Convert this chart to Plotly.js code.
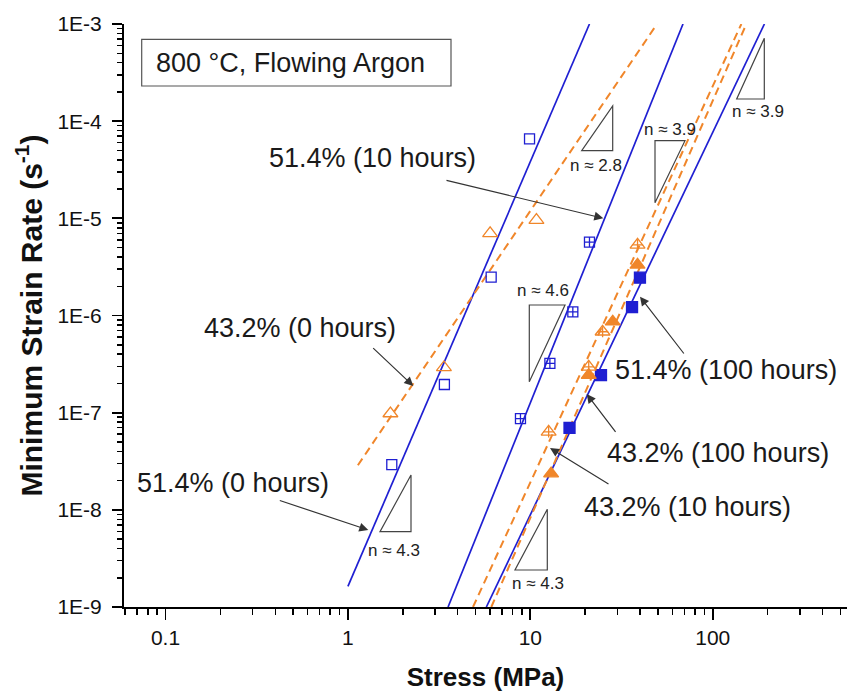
<!DOCTYPE html>
<html><head><meta charset="utf-8">
<script src="https://cdn.plot.ly/plotly-3.0.1.min.js"></script>
<style>html,body{margin:0;padding:0;overflow:hidden;background:#fff}</style>
</head><body><div id="chart" style="width:847px;height:694px"></div>
<script>
// ---------- data ----------
const stress_514_0h = [1.74, 3.38, 6.1, 9.9];
const rate_514_0h   = [2.92e-8, 1.95e-7, 2.48e-6, 6.56e-5];
const stress_432_0h = [1.71, 3.36, 6.02, 10.8];
const rate_432_0h   = [9.8e-8, 2.92e-7, 7.0e-6, 9.6e-6];
const stress_514_10h = [8.83, 12.8, 17.1, 21.1];
const rate_514_10h   = [8.7e-8, 3.21e-7, 1.09e-6, 5.69e-6];
const stress_514_100h = [16.4, 24.4, 36.1, 39.9];
const rate_514_100h   = [6.97e-8, 2.44e-7, 1.22e-6, 2.45e-6];
const stress_432_10h = [12.6, 20.9, 24.9, 38.7];
const rate_432_10h   = [6.34e-8, 2.96e-7, 6.8e-7, 5.33e-6];
const stress_432_100h = [13.0, 20.9, 28.3, 38.7];
const rate_432_100h   = [2.36e-8, 2.44e-7, 8.63e-7, 3.32e-6];

// fitted power-law lines (end points)
const fit_514_0h_x = [1.0, 21.1];    const fit_514_0h_y = [1.63e-9, 1e-3];
const fit_432_0h_x = [1.134, 49.5];  const fit_432_0h_y = [2.88e-8, 1e-3];
const fit_514_10h_x = [3.54, 68.7];  const fit_514_10h_y = [1e-9, 1e-3];
const fit_514_100h_x = [5.74, 192];  const fit_514_100h_y = [1e-9, 1e-3];
const fit_432_10h_x = [4.85, 143.5]; const fit_432_10h_y = [1e-9, 1e-3];
const fit_432_100h_x = [6.11, 152.8];const fit_432_100h_y = [1e-9, 1e-3];

const xTickVals = [0.1, 1, 10, 100];
const xTickText = ["0.1", "1", "10", "100"];
const yTickVals = [1e-9, 1e-8, 1e-7, 1e-6, 1e-5, 1e-4, 1e-3];
const yTickText = ["1E-9", "1E-8", "1E-7", "1E-6", "1E-5", "1E-4", "1E-3"];

// ---------- styling ----------
const BLUE = '#1f1fd2';
const ORANGE = '#f0862a';
const FONT = 'Liberation Sans, Arial, sans-serif';
const L = 124, R = 847, T = 24, B = 607;
const px = x => (x - L) / (R - L);
const py = y => (B - y) / (B - T);

function fitLine(x, y, color, dash) {
  return {x: x, y: y, type: 'scatter', mode: 'lines', hoverinfo: 'skip',
          line: {color: color, width: dash ? 2 : 1.7, dash: dash ? '8px,5px' : 'solid'}};
}
function pts(x, y, symbol, color, size) {
  return {x: x, y: y, type: 'scatter', mode: 'markers',
          marker: {symbol: symbol, size: size, color: color, line: {color: color, width: 1.3}}};
}

const traces = [
  fitLine(fit_514_0h_x, fit_514_0h_y, BLUE, false),
  fitLine(fit_432_0h_x, fit_432_0h_y, ORANGE, true),
  fitLine(fit_514_10h_x, fit_514_10h_y, BLUE, false),
  fitLine(fit_514_100h_x, fit_514_100h_y, BLUE, false),
  fitLine(fit_432_10h_x, fit_432_10h_y, ORANGE, true),
  fitLine(fit_432_100h_x, fit_432_100h_y, ORANGE, true),
  pts(stress_514_0h, rate_514_0h, 'square-open', BLUE, 10),
  pts(stress_432_0h, rate_432_0h, 'triangle-up-open', ORANGE, 13),
  pts(stress_514_10h, rate_514_10h, 'square-cross-open', BLUE, 10),
  pts(stress_514_100h, rate_514_100h, 'square', BLUE, 11),
  pts(stress_432_10h, rate_432_10h, 'triangle-up-open', ORANGE, 13),
  pts(stress_432_10h, rate_432_10h, 'cross-thin-open', ORANGE, 8),
  pts(stress_432_100h, rate_432_100h, 'triangle-up', ORANGE, 13)
];

// slope triangles (pixel positions of decoration)
const tris = [
  [[380,531.7],[411,531.7],[411,475]],
  [[515,570],[547.3,570],[547.3,509.3]],
  [[529.3,305],[565,305],[529.3,381.7]],
  [[581.7,150.7],[612.7,150.7],[612.7,106]],
  [[655,140.7],[685,140.7],[655,202.7]],
  [[736.7,99],[764.3,99],[764.3,38.3]]
];
const shapes = tris.map(t => ({
  type: 'path', xref: 'paper', yref: 'paper',
  path: 'M' + t.map(p => px(p[0]).toFixed(5) + ',' + py(p[1]).toFixed(5)).join(' L') + ' Z',
  line: {color: '#444', width: 1.2}
}));
shapes.push({type: 'rect', xref: 'paper', yref: 'paper',
  x0: px(141.7), x1: px(451), y0: py(86), y1: py(39.3),
  line: {color: '#555', width: 1.2}, fillcolor: 'rgba(0,0,0,0)'});

const nLabels = [
  ['n ≈ 4.3', 394, 550.5], ['n ≈ 4.3', 537.5, 583.3], ['n ≈ 4.6', 543.3, 290],
  ['n ≈ 2.8', 595.8, 165], ['n ≈ 3.9', 670, 130], ['n ≈ 3.9', 757.5, 111.7]
];
const bigLabels = [
  ['51.4% (10 hours)', 372, 158], ['43.2% (0 hours)', 300, 328],
  ['51.4% (0 hours)', 233, 483.3], ['51.4% (100 hours)', 726, 370],
  ['43.2% (100 hours)', 718, 453.3], ['43.2% (10 hours)', 687, 506.7]
];
const arrows = [
  [445,180, 603.3,218.3], [371.7,346.7, 413.3,386], [278.3,500, 368.3,530],
  [685,355, 640,296.7], [616.7,433.3, 586.7,394], [610,485, 550,448]
];
const annotations = [];
nLabels.forEach(a => annotations.push({text: a[0], x: px(a[1]), y: py(a[2]), xref: 'paper', yref: 'paper',
  showarrow: false, xanchor: 'center', yanchor: 'middle', font: {family: FONT, size: 17, color: '#222'}}));
bigLabels.forEach(a => annotations.push({text: a[0], x: px(a[1]), y: py(a[2]), xref: 'paper', yref: 'paper',
  showarrow: false, xanchor: 'center', yanchor: 'middle', font: {family: FONT, size: 27, color: '#1a1a1a'}}));
arrows.forEach(a => annotations.push({text: '', x: px(a[2]), y: py(a[3]), xref: 'paper', yref: 'paper',
  showarrow: true, ax: a[0] - a[2], ay: a[1] - a[3], arrowhead: 2, arrowsize: 1.5, arrowwidth: 1.2,
  arrowcolor: '#333', standoff: 0}));
annotations.push({text: '800 °C, Flowing Argon', x: px(290.5), y: py(63), xref: 'paper', yref: 'paper',
  showarrow: false, xanchor: 'center', yanchor: 'middle', font: {family: FONT, size: 27, color: '#1a1a1a'}});

const xr = [-1.2275, 2.736];
const yr = [-9, -3];
const layout = {
  width: 847, height: 694,
  margin: {l: L, r: 847 - R, t: T, b: 694 - B},
  paper_bgcolor: '#fff', plot_bgcolor: '#fff',
  showlegend: false,
  font: {family: FONT, color: '#111'},
  xaxis: {type: 'log', range: xr, tickmode: 'array', tickvals: xTickVals, ticktext: xTickText,
    ticks: 'outside', ticklen: 11, tickwidth: 1.8, tickcolor: '#000',
    minor: {ticks: 'outside', ticklen: 6, tickwidth: 1.5, tickcolor: '#000', dtick: 'D1', showgrid: false},
    showline: true, linecolor: '#000', linewidth: 2, showgrid: false, zeroline: false,
    ticklabelstandoff: 0,
    tickfont: {family: FONT, size: 21, color: '#111'},
    title: {text: '<b>Stress (MPa)</b>', font: {family: FONT, size: 26, color: '#111'}, standoff: 20}},
  yaxis: {type: 'log', range: yr, tickmode: 'array', tickvals: yTickVals, ticktext: yTickText,
    ticks: 'outside', ticklen: 10, tickwidth: 1.8, tickcolor: '#000',
    minor: {ticks: 'outside', ticklen: 5, tickwidth: 1.5, tickcolor: '#000', dtick: 'D1', showgrid: false},
    showline: true, linecolor: '#000', linewidth: 2, showgrid: false, zeroline: false,
    ticklabelstandoff: 6,
    tickfont: {family: FONT, size: 21, color: '#111'},
    title: {text: '<b>Minimum Strain Rate (s<sup>-1</sup>)</b>', font: {family: FONT, size: 30, color: '#111'}, standoff: 6}},
  xaxis2: {type: 'log', range: xr, overlaying: 'x', side: 'top', anchor: 'y', tickmode: 'array', tickvals: xTickVals,
    showticklabels: false, ticks: 'inside', ticklen: 9, tickwidth: 1.8, tickcolor: '#000',
    minor: {ticks: 'inside', ticklen: 5, tickwidth: 1.5, tickcolor: '#000', dtick: 'D1', showgrid: false},
    showline: true, linecolor: '#000', linewidth: 2, showgrid: false, zeroline: false},
  yaxis2: {type: 'log', range: yr, overlaying: 'y', side: 'right', anchor: 'x', tickmode: 'array', tickvals: yTickVals,
    showticklabels: false, ticks: 'inside', ticklen: 8, tickwidth: 1.8, tickcolor: '#000',
    minor: {ticks: 'inside', ticklen: 4, tickwidth: 1.5, tickcolor: '#000', dtick: 'D1', showgrid: false},
    showline: false, showgrid: false, zeroline: false},
  shapes: shapes,
  annotations: annotations
};
Plotly.newPlot('chart', traces, layout, {staticPlot: true, displayModeBar: false});
</script>
</body></html>
